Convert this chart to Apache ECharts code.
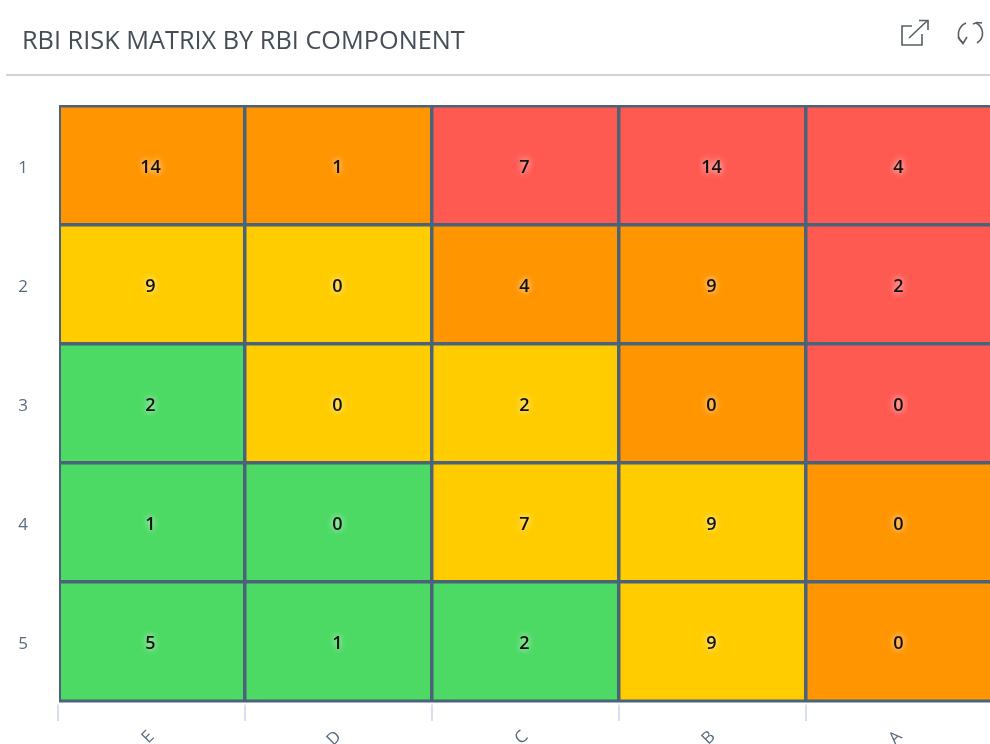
<!DOCTYPE html>
<html><head><meta charset="utf-8">
<style>html,body{margin:0;padding:0;background:#fff;overflow:hidden}#c{width:990px;height:744px}</style>
<script src="https://cdn.jsdelivr.net/npm/echarts@6/dist/echarts.min.js"></script>
</head><body><div id="c"></div>
<script>
const titleText = 'RBI RISK MATRIX BY RBI COMPONENT';
const columns = ['E','D','C','B','A'];
const rows = ['1','2','3','4','5'];
const counts = [
  [14,1,7,14,4],
  [9,0,4,9,2],
  [2,0,2,0,0],
  [1,0,7,9,0],
  [5,1,2,9,0]
];
const riskLevels = [
  ['high','high','critical','critical','critical'],
  ['medium','medium','high','high','critical'],
  ['low','medium','medium','high','critical'],
  ['low','low','medium','medium','high'],
  ['low','low','low','medium','high']
];
const riskColors = {critical:'#ff5a52', high:'#ff9500', medium:'#ffcc00', low:'#4cd964'};
const cells = [];
rows.forEach((r,ri)=>columns.forEach((c,ci)=>{
  cells.push({value:[ci,ri,counts[ri][ci]], itemStyle:{color:riskColors[riskLevels[ri][ci]]}});
}));
const chart = echarts.init(document.getElementById('c'),null,{renderer:'canvas'});
const font = '"Open Sans","Noto Sans",sans-serif';
const iconStyle = {fill:null,stroke:'#565f68',lineWidth:1.6};
const poly = pts => ({type:'polyline',shape:{points:pts},style:iconStyle,silent:true,z:20});
const curve = (x1,y1,cpx1,cpy1,cpx2,cpy2,x2,y2) => ({type:'bezierCurve',shape:{x1,y1,cpx1,cpy1,cpx2,cpy2,x2,y2},style:iconStyle,silent:true,z:20});
const mask = (x,y,width,height) => ({type:'rect',shape:{x,y,width,height},style:{fill:'#fff'},silent:true,z:20});
chart.setOption({
  animation:false,
  backgroundColor:'#fff',
  title:{text:titleText,left:17,top:24,textStyle:{fontFamily:font,fontSize:25.3,fontWeight:400,color:'#454e58'}},
  grid:{left:58,top:106,width:935,height:595,containLabel:false,outerBoundsMode:'none'},
  xAxis:{type:'category',data:columns,position:'bottom',
    axisLine:{show:false},
    axisTick:{show:true,length:20,alignWithLabel:false,lineStyle:{color:'#ccd6eb',width:1.5}},
    axisLabel:{rotate:45,margin:33,interval:0,fontFamily:font,fontSize:17,color:'#5a6b80'},
    splitLine:{show:false},splitArea:{show:false}},
  yAxis:{type:'category',data:rows,inverse:true,
    axisLine:{show:false},axisTick:{show:false},
    axisLabel:{margin:30,formatter:v=>'{n|'+v+'}',
      rich:{n:{padding:[5,0,0,0],fontFamily:font,fontSize:17,color:'#5a6b80'}}},
    splitLine:{show:false},splitArea:{show:false}},
  series:[{type:'heatmap',data:cells,
    itemStyle:{borderColor:'#4a6379',borderWidth:3.5},
    label:{show:true,offset:[-1,2],formatter:p=>String(p.value[2]),fontFamily:font,fontSize:18,fontWeight:600,color:'#111',
      textShadowColor:'#fff',textShadowBlur:7},
    emphasis:{disabled:true}}],
  graphic:[
    mask(54,100,5,603),
    mask(54,100,945,5),
    mask(54,702.5,945,2),
    {type:'line',shape:{x1:60,y1:105,x2:60,y2:702},style:{stroke:'#4a6379',lineWidth:2},silent:true,z:20},
    {type:'line',shape:{x1:6,y1:75,x2:990,y2:75},style:{stroke:'#c4c4c4',lineWidth:1.5},silent:true},
    poly([[912,26],[902,26],[902,45],[922,45],[922,34]]),
    poly([[909,38],[927,21]]),
    poly([[919,20.5],[928,20.5],[928,30]]),
    curve(966,23,957,27,956,38,963,43),
    poly([[958,37],[963,43.5],[967,37]]),
    curve(976,23,984,27,985,38,977,43),
    poly([[973,24],[977,22.5],[982,23]])
  ]
});
</script></body></html>
